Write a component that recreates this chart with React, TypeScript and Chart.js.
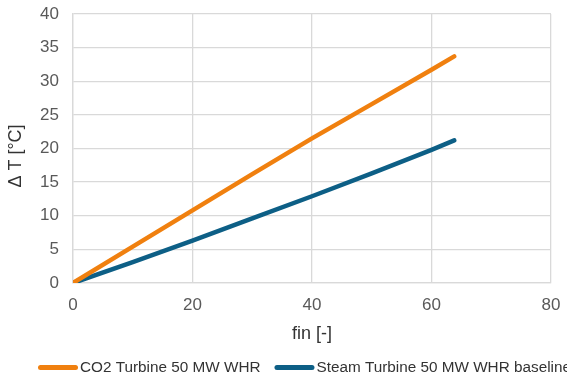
import React, { useEffect, useRef } from "react";
import { Chart, registerables } from "chart.js";

Chart.register(...registerables);

const finValues = [0, 10, 20, 30, 40, 50, 60, 63.8];
const co2DeltaT = [0, 5.4, 10.8, 16.2, 21.5, 26.6, 31.7, 33.7];
const steamDeltaT = [0, 3.1, 6.3, 9.6, 12.9, 16.3, 19.8, 21.2];
const seriesNames = ["CO2 Turbine 50 MW WHR", "Steam Turbine 50 MW WHR baseline"];
const seriesColors = ["#F0800F", "#0D5F86"];
const xTitle = "fin [-]";
const yTitle = "Δ T [°C]";

const FONT = '"Liberation Sans", Arial, sans-serif';

const legendPlugin = {
  id: "customLegend",
  afterDraw(chart: any) {
    const ctx = chart.ctx;
    ctx.save();
    ctx.font = `15.3px ${FONT}`;
    ctx.textBaseline = "middle";
    ctx.textAlign = "left";
    let x = 38;
    const y = 367.5;
    chart.data.datasets.forEach((ds: any) => {
      ctx.strokeStyle = ds.borderColor;
      ctx.lineWidth = 5;
      ctx.lineCap = "round";
      ctx.beginPath();
      ctx.moveTo(x + 2.5, y);
      ctx.lineTo(x + 40 - 2.5, y);
      ctx.stroke();
      ctx.fillStyle = "#333333";
      ctx.fillText(ds.label, x + 42, y);
      x += 42 + ctx.measureText(ds.label).width + 14;
    });
    ctx.restore();
  },
};

export default function App() {
  const ref = useRef<HTMLCanvasElement | null>(null);
  useEffect(() => {
    if (!ref.current) return;
    const mk = (vals: number[]) => finValues.map((f, i) => ({ x: f, y: vals[i] }));
    const chart = new Chart(ref.current, {
      type: "line",
      data: {
        datasets: [
          {
            label: seriesNames[0],
            data: mk(co2DeltaT),
            borderColor: seriesColors[0],
            backgroundColor: seriesColors[0],
            borderWidth: 4.5,
            pointRadius: 0,
            borderCapStyle: "round",
            borderJoinStyle: "round",
            tension: 0,
          },
          {
            label: seriesNames[1],
            data: mk(steamDeltaT),
            borderColor: seriesColors[1],
            backgroundColor: seriesColors[1],
            borderWidth: 4.5,
            pointRadius: 0,
            borderCapStyle: "round",
            borderJoinStyle: "round",
            tension: 0,
          },
        ],
      },
      options: {
        animation: false,
        responsive: true,
        maintainAspectRatio: false,
        layout: { padding: { left: 0, right: 16, top: 14, bottom: 34 } },
        plugins: {
          legend: { display: false },
          tooltip: { enabled: false },
        },
        scales: {
          x: {
            type: "linear",
            min: 0,
            max: 80,
            ticks: {
              stepSize: 20,
              padding: 12,
              color: "#595959",
              font: { family: FONT, size: 17 },
            },
            grid: { color: "#d9d9d9", lineWidth: 1.3, drawTicks: false },
            border: { color: "#d9d9d9", width: 1.3 },
            title: {
              display: true,
              text: xTitle,
              color: "#333333",
              font: { family: FONT, size: 18 },
              padding: { top: 0, bottom: 0 },
            },
            afterFit: (s: any) => {
              s.height = 62;
              s.paddingLeft = 0;
              s.paddingRight = 0;
            },
          },
          y: {
            min: 0,
            max: 40,
            ticks: {
              stepSize: 5,
              padding: 14,
              color: "#595959",
              font: { family: FONT, size: 17 },
            },
            grid: { color: "#d9d9d9", lineWidth: 1.3, drawTicks: false },
            border: { color: "#d9d9d9", width: 1.3 },
            title: {
              display: true,
              text: yTitle + "   ",
              color: "#333333",
              font: { family: FONT, size: 18 },
              padding: { top: 5, bottom: 0 },
            },
            afterFit: (s: any) => {
              s.width = 73;
              s.paddingTop = 0;
              s.paddingBottom = 0;
            },
          },
        },
      },
      plugins: [legendPlugin],
    });
    return () => chart.destroy();
  }, []);
  return (
    <div style={{ position: "fixed", left: 0, top: 0, width: 567, height: 379, background: "#fff" }}>
      <canvas ref={ref} />
    </div>
  );
}
